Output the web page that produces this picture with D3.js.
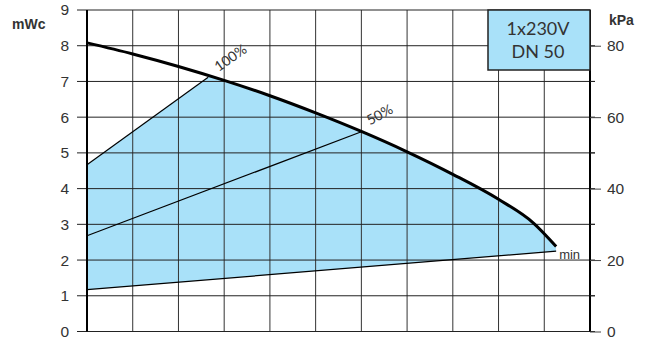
<!DOCTYPE html>
<html>
<head>
<meta charset="utf-8">
<script src="https://cdn.jsdelivr.net/npm/d3@7"></script>
<style>
  body { margin: 0; background: #fff; }
  svg { display: block; }
</style>
</head>
<body>
<svg id="chart" width="652" height="338"></svg>
<script>
// flow axis has no labels: 11 grid columns
var flowTicks = d3.range(0, 12);
var headTicks = d3.range(0, 10);          // mWc
var kpaTicks = [0, 20, 40, 60, 80];
var kpaMinor = [10, 30, 50, 70];

// pump curve at 100% speed
var curveFlow = [0, 1, 2, 3, 4, 5, 6, 7, 8, 9, 9.77, 10.26];
var curveHead = [8.08, 7.77, 7.42, 7.03, 6.60, 6.12, 5.60, 5.03, 4.40, 3.70, 3.03, 2.38];

// straight control lines
var line100 = [[0, 4.67], [2.65, 7.12]];
var line50 = [[0, 2.68], [6.0, 5.59]];
var lineMin = [[0, 1.17], [10.26, 2.25]];

var legendLines = ["1x230V", "DN 50"];

function drawChart() {
  var svg = d3.select("#chart");
  var pad = {left: 87, right: 590, top: 10, bottom: 331.5};

  var x = d3.scaleLinear().domain([0, 11]).range([pad.left, pad.right]);
  var y = d3.scaleLinear().domain([0, 9]).range([pad.bottom, pad.top]);
  var yk = d3.scaleLinear().domain([0, 90]).range([pad.bottom, pad.top]);

  var pts = curveFlow.map(function(f, i) { return [f, curveHead[i]]; });
  var ln = d3.line().x(function(d) { return x(d[0]); }).y(function(d) { return y(d[1]); });

  // clip for blue region: below curve, above min line, right of the 100% line
  var clipPts = [lineMin[0], line100[0], line100[1], [line100[1][0], 9],
                 [lineMin[1][0], 9], lineMin[1]];
  svg.append("clipPath").attr("id", "reg")
    .append("path")
    .attr("d", ln(clipPts) + "Z");

  var area = d3.area()
    .curve(d3.curveMonotoneX)
    .x(function(d) { return x(d[0]); })
    .y0(y(0))
    .y1(function(d) { return y(d[1]); });

  svg.append("path")
    .attr("d", area(pts))
    .attr("clip-path", "url(#reg)")
    .attr("fill", "#a9e1f9");

  // grid
  svg.append("g").selectAll("line")
    .data(flowTicks.slice(1, -1))
    .enter().append("line")
    .attr("x1", function(d) { return x(d); }).attr("x2", function(d) { return x(d); })
    .attr("y1", pad.top).attr("y2", pad.bottom)
    .attr("stroke", "#333").attr("stroke-width", 1);

  svg.append("g").selectAll("line")
    .data(headTicks)
    .enter().append("line")
    .attr("x1", pad.left - 10)
    .attr("x2", function(d) { return d == 9 ? pad.right : pad.right + 5; })
    .attr("y1", function(d) { return y(d); }).attr("y2", function(d) { return y(d); })
    .attr("stroke", "#222").attr("stroke-width", 1);

  // axis lines
  svg.append("line").attr("x1", pad.left).attr("x2", pad.left).attr("y1", pad.top).attr("y2", pad.bottom)
    .attr("stroke", "#000").attr("stroke-width", 2);
  svg.append("line").attr("x1", pad.right).attr("x2", pad.right).attr("y1", pad.top).attr("y2", pad.bottom)
    .attr("stroke", "#000").attr("stroke-width", 2);

  // left axis labels
  var yAxis = d3.axisLeft(y).tickValues(headTicks).tickSize(0).tickPadding(18).tickFormat(d3.format("d"));
  var gl = svg.append("g").attr("transform", "translate(" + pad.left + ",0)").call(yAxis);
  gl.select(".domain").remove();
  gl.selectAll("text").attr("font-family", "Liberation Sans, Arial, sans-serif")
    .attr("font-size", 15.5).attr("fill", "#333");

  // right axis (kPa)
  var kAxis = d3.axisRight(yk).tickValues(kpaTicks).tickSize(11).tickPadding(6);
  var gr = svg.append("g").attr("transform", "translate(" + pad.right + ",0)").call(kAxis);
  gr.select(".domain").remove();
  gr.selectAll("line").attr("stroke", "#444");
  gr.selectAll("text").attr("font-family", "Liberation Sans, Arial, sans-serif")
    .attr("font-size", 15.5).attr("fill", "#333");
  svg.append("g").selectAll("line")
    .data(kpaMinor)
    .enter().append("line")
    .attr("x1", pad.right).attr("x2", pad.right + 5)
    .attr("y1", function(d) { return yk(d); }).attr("y2", function(d) { return yk(d); })
    .attr("stroke", "#222");

  svg.append("text").attr("x", 12).attr("y", 29).text("mWc")
    .attr("font-family", "Liberation Sans, Arial, sans-serif").attr("font-weight", "bold")
    .attr("font-size", 14).attr("fill", "#333");
  svg.append("text").attr("x", 609).attr("y", 25).text("kPa")
    .attr("font-family", "Liberation Sans, Arial, sans-serif").attr("font-weight", "bold")
    .attr("font-size", 14).attr("fill", "#333");

  // control lines
  [line100, line50, lineMin].forEach(function(l) {
    svg.append("path").attr("d", ln(l)).attr("fill", "none")
      .attr("stroke", "#000").attr("stroke-width", 1.2);
  });

  // pump curve
  svg.append("path")
    .attr("d", ln.curve(d3.curveMonotoneX)(pts))
    .attr("fill", "none").attr("stroke", "#000").attr("stroke-width", 3);

  // curve labels
  function rotLabel(txt, px, py, ang, size) {
    svg.append("text")
      .attr("transform", "translate(" + px + "," + py + ") rotate(" + ang + ")")
      .attr("text-anchor", "middle")
      .attr("font-family", "Lato, sans-serif").attr("font-size", size)
      .attr("fill", "#333").text(txt);
  }
  rotLabel("100%", x(3.2), y(7.55), -35, 14);
  rotLabel("50%", x(6.45), y(5.95), -29, 14);

  svg.append("text").attr("x", x(10.26) + 3).attr("y", y(2.25) + 8).text("min")
    .attr("font-family", "Liberation Sans, Arial, sans-serif").attr("font-size", 13).attr("fill", "#333");

  // legend box
  svg.append("rect").attr("x", 488).attr("y", pad.top).attr("width", pad.right - 488).attr("height", 60)
    .attr("fill", "#a9e1f9").attr("stroke", "#222").attr("stroke-width", 1.5);
  svg.selectAll(".lg").data(legendLines).enter().append("text")
    .attr("class", "lg")
    .attr("x", 538).attr("y", function(d, i) { return 35 + i * 22.5; })
    .attr("text-anchor", "middle")
    .attr("font-family", "Lato, sans-serif").attr("font-size", 18).attr("fill", "#333")
    .text(function(d) { return d; });
}

drawChart();
</script>
</body>
</html>
